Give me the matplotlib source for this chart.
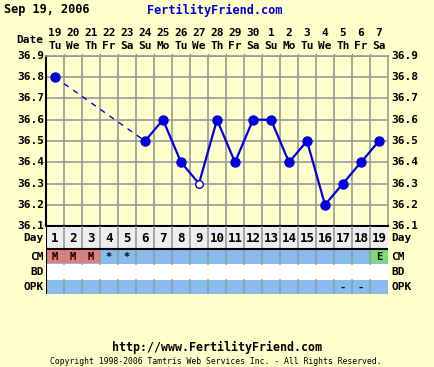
import matplotlib
matplotlib.use("Agg")
import matplotlib.pyplot as plt
import numpy as np
from matplotlib.patches import Rectangle

# chart data
days = list(range(1, 20))
dates = ["19", "20", "21", "22", "23", "24", "25", "26", "27", "28",
         "29", "30", "1", "2", "3", "4", "5", "6", "7"]
weekdays = ["Tu", "We", "Th", "Fr", "Sa", "Su", "Mo", "Tu", "We", "Th",
            "Fr", "Sa", "Su", "Mo", "Tu", "We", "Th", "Fr", "Sa"]
temps = [36.8, None, None, None, None, 36.5, 36.6, 36.4, 36.3, 36.6,
         36.4, 36.6, 36.6, 36.4, 36.5, 36.2, 36.3, 36.4, 36.5]
open_days = [9]
cm = ["M", "M", "M", "*", "*", "", "", "", "", "", "", "", "", "", "", "", "", "", "E"]
opk = ["", "", "", "", "", "", "", "", "", "", "", "", "", "", "", "", "-", "-", ""]
y_ticks = [36.1, 36.2, 36.3, 36.4, 36.5, 36.6, 36.7, 36.8, 36.9]

W, H = 434, 367
BG = "#FFFFCC"
BLUE = "#0000DD"
GRID = "#999999"
FONT = "DejaVu Sans Mono"

fig = plt.figure(figsize=(W / 100, H / 100), dpi=100, facecolor=BG)

def fx(px):
    return px / W

def fy(py):
    return 1 - py / H

def txt(x, y, s, size=8, ha="left", color="black", weight="bold"):
    fig.text(fx(x), fy(y), s, ha=ha, va="center", fontsize=size,
             color=color, family=FONT, weight=weight)

# plot area: x 46..388, y 56..226
L, R, T, B = 46, 388, 56, 226
ax = fig.add_axes([fx(L), fy(B), fx(R - L), (B - T) / H])
ax.set_facecolor(BG)
ax.set_xlim(0.5, 19.5)
ax.set_ylim(36.1, 36.9)
for v in np.arange(1.5, 19.5, 1.0):
    ax.axvline(v, color=GRID, lw=1.2, zorder=1)
for t in y_ticks[1:]:
    ax.axhline(t, color=GRID, lw=1.2, zorder=1)
ax.set_xticks([])
ax.set_yticks([])
for s in ["top", "right"]:
    ax.spines[s].set_color(GRID)
    ax.spines[s].set_linewidth(1.2)
ax.spines["left"].set_linewidth(1.5)
ax.spines["bottom"].set_linewidth(1.5)

# dashed segment over missing days
pts = [(d, t) for d, t in zip(days, temps) if t is not None]
ax.plot([pts[0][0], pts[1][0]], [pts[0][1], pts[1][1]], color=BLUE, lw=1.0,
        ls=(0, (4, 4)), zorder=2)
xs = [p[0] for p in pts[1:]]
ys = [p[1] for p in pts[1:]]
ax.plot(xs, ys, color=BLUE, lw=1.6, zorder=3)
for d, t in pts:
    if d in open_days:
        ax.plot(d, t, "o", ms=5.5, mfc=BG, mec=BLUE, mew=1.0, zorder=4)
    else:
        ax.plot(d, t, "o", ms=6.5, color=BLUE, zorder=4)

# small ticks above the top line
for v in np.arange(1.5, 19.5, 1.0):
    ax.plot([v, v], [36.9, 36.91], color=GRID, lw=1.0, clip_on=False)

# y tick labels both sides
for t in y_ticks:
    py = B - (t - 36.1) / 0.8 * (B - T)
    txt(44, py, f"{t:.1f}", ha="right")
    txt(391, py, f"{t:.1f}")

# date header
col = (R - L) / 19
for i, (d, w) in enumerate(zip(dates, weekdays)):
    cx = L + col * (i + 0.5)
    txt(cx, 33, d, ha="center")
    txt(cx, 46, w, ha="center")
txt(43, 40, "Date", ha="right")

# table rows
tab = fig.add_axes([fx(L), fy(294), fx(R - L), 68 / H])
tab.set_xlim(0.5, 19.5)
tab.set_ylim(294, 226)
tab.axis("off")
rows = {"Day": (227, 249), "CM": (249, 264), "BD": (264, 280), "OPK": (280, 294)}
tab.add_patch(Rectangle((0.5, 227), 19, 22, fc="#EEEEEE", ec="none"))
tab.add_patch(Rectangle((0.5, 249), 19, 15, fc="#88BBEE", ec="none"))
tab.add_patch(Rectangle((0.5, 264), 19, 16, fc="white", ec="none"))
tab.add_patch(Rectangle((0.5, 280), 19, 14, fc="#88BBEE", ec="none"))
for i, c in enumerate(cm):
    if c == "M":
        tab.add_patch(Rectangle((i + 0.5, 249.5), 1, 13.5, fc="#E87A7A", ec="none"))
    elif c == "E":
        tab.add_patch(Rectangle((i + 0.5, 249.5), 1, 13.5, fc="#77DD77", ec="none"))
for v in np.arange(1.5, 19.5, 1.0):
    tab.plot([v, v], [227, 264], color=GRID, lw=1.2)
    tab.plot([v, v], [280, 294], color=GRID, lw=1.2)
tab.plot([0.5, 0.5], [226, 294], color="black", lw=1.5)
tab.plot([0.5, 19.5], [249, 249], color="black", lw=1.5)

for i in range(19):
    cx = L + col * (i + 0.5)
    txt(cx, 239, str(days[i]), ha="center", size=9)
    if cm[i]:
        txt(cx, 257, cm[i], ha="center", size=7.5)
    if opk[i]:
        txt(cx, 288, opk[i], ha="center", size=7.5)

for name, (y0, y1) in rows.items():
    yc = (y0 + y1) / 2
    txt(44, yc, name, ha="right")
    txt(391, yc, name)

# header and footer
txt(4, 10, "Sep 19, 2006", size=8.6)
txt(215, 10, "FertilityFriend.com", ha="center", color=BLUE, size=8.6)
txt(217, 347, "http://www.FertilityFriend.com", ha="center", size=8.4)
txt(216, 362, "Copyright 1998-2006 Tamtris Web Services Inc. - All Rights Reserved.",
    ha="center", size=5.9, weight="normal")

fig.savefig("out.png", dpi=100, facecolor=BG)
